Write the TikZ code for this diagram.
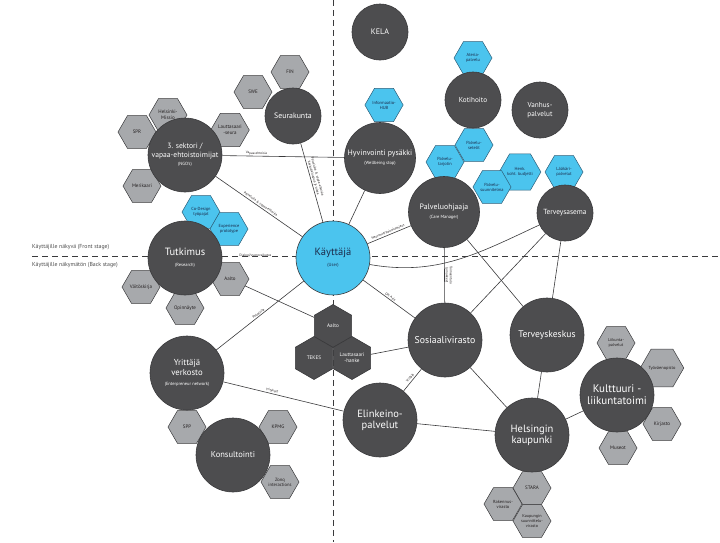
\documentclass[tikz,border=0pt]{standalone}
\usepackage{fontspec}
\setmainfont{PT Sans}
\usepackage{xcolor}
\usepackage{tikz}
\usetikzlibrary{shapes.geometric}

\definecolor{nodegray}{HTML}{4D4D4F}
\definecolor{edgedark}{HTML}{3A3A3C}
\definecolor{hexgray}{HTML}{A7A9AC}
\definecolor{userblue}{HTML}{4BC4EE}
\definecolor{blueedge}{HTML}{2E5E78}
\definecolor{textdark}{HTML}{231F20}
\definecolor{navytext}{HTML}{1B2A4A}
\definecolor{linegray}{HTML}{3A3A3C}

\newcommand{\subtxt}[1]{{\fontsize{4.5}{5}\selectfont #1}}

\begin{document}
\begin{tikzpicture}[
  x=1pt, y=-1pt,
  circ/.style={circle, draw=edgedark, line width=0.6pt, fill=nodegray, text=white,
               align=center, inner sep=0pt},
  bigc/.style={circ, minimum size=74pt, font=\fontsize{10.5}{11}\selectfont},
  midc/.style={circ, minimum size=71pt, font=\fontsize{7.8}{9}\selectfont},
  smallc/.style={circ, minimum size=56pt, font=\fontsize{7.2}{8.5}\selectfont},
  hexg/.style={regular polygon, regular polygon sides=6, minimum size=38pt, inner sep=0pt,
               draw=edgedark, line width=0.5pt, fill=hexgray, text=textdark, align=center,
               font=\fontsize{5}{5.6}\selectfont},
  hexb/.style={hexg, fill=userblue, draw=blueedge, text=navytext,
               font=\fontsize{4.4}{5}\selectfont},
  hexd/.style={regular polygon, regular polygon sides=6, shape border rotate=30,
               minimum size=43pt, inner sep=0pt, draw=edgedark, line width=0.6pt,
               fill=nodegray, text=white, align=center, font=\fontsize{5.2}{6}\selectfont},
  conn/.style={draw=linegray, line width=0.6pt},
  lbl/.style={font=\fontsize{3.4}{4}\selectfont, sloped, above, inner sep=1pt, text=textdark},
  divider/.style={draw=linegray, line width=0.8pt, dash pattern=on 6pt off 4pt},
  stage/.style={anchor=west, font=\fontsize{5.8}{6}\selectfont, text=black!70, inner sep=0pt}
]
  \useasboundingbox (0,0) rectangle (720,542);

  % Front stage / back stage
  \draw[divider] (333,0) -- (333,542);
  \draw[divider] (32,256) -- (720,256);
  \node[stage] (front) at (32,247) {Käyttäjille näkyvä (Front stage)};
  \node[stage] (back) at (32,265) {Käyttäjille näkymätön (Back stage)};

  % Hexagons, grey
  \node[hexg] (hfin) at (290,72) {FIN};
  \node[hexg] (hswe) at (253,92) {SWE};
  \node[hexg] (hmissio) at (168,115) {Helsinki-\\Missio};
  \node[hexg] (hspr) at (137,132) {SPR};
  \node[hexg] (hlseura) at (230,130) {Lauttasaari\\-seura};
  \node[hexg] (hmeri) at (142,186) {Merikaari};
  \node[hexg] (haalto) at (230,279) {Aalto};
  \node[hexg] (hvaitos) at (141,287) {Väitöskirja};
  \node[hexg] (hopinn) at (185,308) {Opinnäyte};
  \node[hexg] (hspp) at (187,427) {SPP};
  \node[hexg] (hkpmg) at (278,427) {KPMG};
  \node[hexg, font=\fontsize{4.6}{5}\selectfont] (hzonq) at (280,482) {Zonq\\interactions};
  \node[hexg, font=\fontsize{4.2}{4.8}\selectfont] (hliikunta) at (616,343) {Liikunta-\\palvelut};
  \node[hexg, font=\fontsize{4.4}{5}\selectfont] (htyova) at (662,368) {Työväenopisto};
  \node[hexg] (hkirjasto) at (662,424) {Kirjasto};
  \node[hexg] (hmuseot) at (618,448) {Museot};
  \node[hexg] (hstara) at (532,488) {STARA};
  \node[hexg, font=\fontsize{4.4}{5}\selectfont] (hrakennus) at (503,504) {Rakennus-\\virasto};
  \node[hexg, font=\fontsize{4.2}{4.6}\selectfont] (hkaupsuun) at (532,521) {Kaupungin\\suunnittelu-\\virasto};

  % Hexagons, blue
  \node[hexb] (bcodesign) at (201,212) {Co-Design\\työpajat};
  \node[hexb] (bexper) at (229,229) {Experience\\prototype};
  \node[hexb] (binfo) at (384,105) {Informaatio-\\HUB};
  \node[hexb] (bateria) at (473,58) {Ateria-\\palvelu};
  \node[hexb] (bsetelit) at (474,145) {Palvelu-\\setelit};
  \node[hexb] (btarjotin) at (445,162) {Palvelu-\\tarjotin};
  \node[hexb] (bbudjetti) at (520,172) {Henk.\\koht. budjetti};
  \node[hexb] (bsuunn) at (492,187) {Palvelu-\\suunnitelma};
  \node[hexb] (blaakari) at (564,172) {Lääkäri-\\palvelut};

  % Projects in the middle
  \node[hexd] (caalto) at (333,326) {Aalto};
  \node[hexd] (ctekes) at (314,358) {TEKES};
  \node[hexd] (clautta) at (352,358) {Lauttasaari\\-hanke};

  % Circles
  \node[smallc, font=\fontsize{8}{9}\selectfont] (kela) at (380,32) {KELA};
  \node[smallc, font=\fontsize{7.8}{9}\selectfont] (seurakunta) at (293,116) {Seurakunta};
  \node[bigc, font=\fontsize{7.6}{8.6}\selectfont] (sektori) at (185,155)
    {3. sektori /\\vapaa-ehtoistoimijat\\\subtxt{(NGO's)}};
  \node[midc] (pysakki) at (380,158) {Hyvinvointi pysäkki\\\subtxt{(Wellbeing stop)}};
  \node[smallc] (kotihoito) at (473,100) {Kotihoito};
  \node[smallc] (vanhus) at (540,110) {Vanhus-\\palvelut};
  \node[midc] (ohjaaja) at (444,212) {Palveluohjaaja\\\subtxt{(Care Manager)}};
  \node[smallc, font=\fontsize{7.4}{8}\selectfont] (terveysasema) at (565,213) {Terveysasema};
  \node[bigc, fill=userblue, text=navytext] (kayttaja) at (333,258) {Käyttäjä\\\subtxt{(User)}};
  \node[bigc] (tutkimus) at (185,258) {Tutkimus\\\subtxt{(Research)}};
  \node[bigc, font=\fontsize{9.8}{11}\selectfont] (sosiaali) at (445,340) {Sosiaalivirasto};
  \node[bigc, font=\fontsize{9.6}{11}\selectfont] (terveyskeskus) at (547,335) {Terveyskeskus};
  \node[bigc, font=\fontsize{8.7}{10}\selectfont] (yrittaja) at (187,373)
    {Yrittäjä\\verkosto\\\subtxt{(Enterpreneur network)}};
  \node[bigc] (elinkeino) at (380,420) {Elinkeino-\\palvelut};
  \node[bigc] (helsinki) at (532,435) {Helsingin\\kaupunki};
  \node[bigc, font=\fontsize{11}{12}\selectfont] (kulttuuri) at (617,395) {Kulttuuri -\\liikuntatoimi};
  \node[bigc, font=\fontsize{8.5}{9}\selectfont] (konsultointi) at (233,455) {Konsultointi};

  % Connections
  \draw[conn] (sektori) -- node[lbl, pos=0.28]{Vapaa-ehtoisia} (pysakki);
  \draw[conn] (sektori) -- node[lbl]{Palveluita \& vapaa-ehtoisia} (kayttaja);
  \draw[conn] (seurakunta) -- node[lbl, pos=0.45, align=center, above=0pt]
    {Palveluita \& vapaa-ehtoisia\\Keskusteluapua ja tukea} (kayttaja);
  \draw[conn] (pysakki) -- (kayttaja);
  \path (tutkimus) -- node[lbl, pos=0.45]{Dialogi/vuorovaikutus} (kayttaja);
  \draw[conn] (kayttaja) -- node[lbl]{Neuvonta/palveluohjaus} (ohjaaja);
  \draw[conn] (kayttaja) to[out=-10, in=205] (terveysasema);
  \draw[conn] (kayttaja) -- node[lbl]{OK: Asia} (sosiaali);
  \draw[conn] (yrittaja) -- node[lbl]{Palveluita} (kayttaja);
  \draw[conn] (haalto) -- (caalto);
  \draw[conn] (ohjaaja) -- node[lbl, align=center, pos=0.5]{Toimeentulo\\Lomakkeet} (sosiaali);
  \draw[conn] (ohjaaja) -- (terveyskeskus);
  \draw[conn] (terveysasema) -- (sosiaali);
  \draw[conn] (terveysasema) -- (terveyskeskus);
  \draw[conn] (clautta) -- (sosiaali);
  \draw[conn] (sosiaali) -- node[lbl]{Yrittäjä} (elinkeino);
  \draw[conn] (sosiaali) -- (helsinki);
  \draw[conn] (terveyskeskus) -- (helsinki);
  \draw[conn] (elinkeino) -- (helsinki);
  \draw[conn] (helsinki) -- (kulttuuri);
  \draw[conn] (yrittaja) -- node[lbl, pos=0.4]{Yritykset} (elinkeino);
\end{tikzpicture}
\end{document}
